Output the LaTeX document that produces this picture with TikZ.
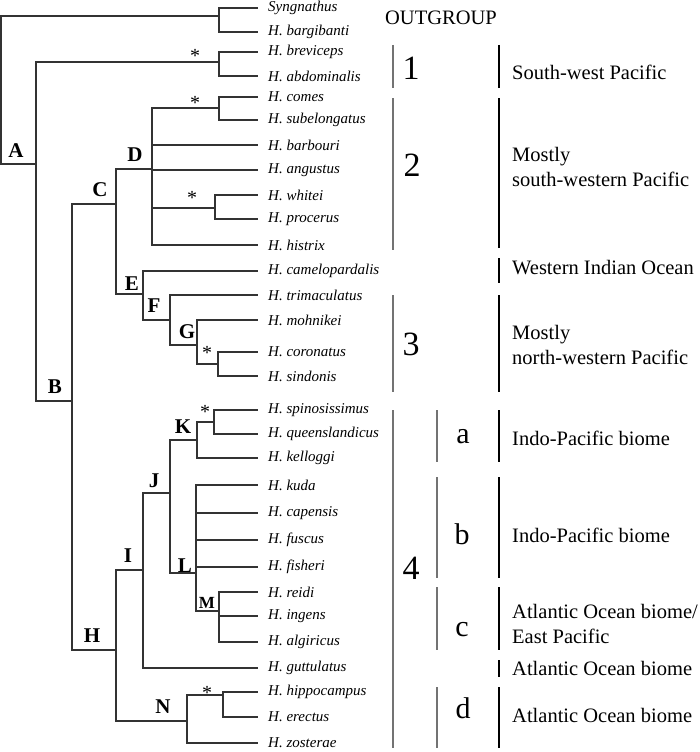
\documentclass[tikz,border=0pt]{standalone}
\usepackage{fontspec}
\setmainfont{Liberation Serif}
\begin{document}
\begin{tikzpicture}[x=1pt,y=-1pt,
  br/.style={draw=black!80, line width=1.1pt},
  sp/.style={anchor=west, inner xsep=10pt, inner ysep=1pt, font=\fontsize{15}{17}\selectfont\itshape},
  lbl/.style={font=\fontsize{21}{23}\selectfont\bfseries, inner sep=0pt},
  smlbl/.style={font=\fontsize{17}{19}\selectfont\bfseries, inner sep=0pt},
  star/.style={anchor=north, font=\fontsize{20}{22}\selectfont, inner sep=0pt},
  num/.style={font=\fontsize{34}{36}\selectfont, inner sep=0pt},
  let/.style={font=\fontsize{30}{32}\selectfont, inner sep=0pt},
  region/.style={anchor=west, align=left, font=\fontsize{20.5}{25}\selectfont, inner sep=0pt},
  gbar/.style={draw=black!55, line width=2pt},
  kbar/.style={draw=black, line width=2.5pt}]
\useasboundingbox (0,0) rectangle (700,752);

% leaves
\foreach \n/\y/\t in {
  syn/8/Syngnathus, barg/32/H. bargibanti, brev/52/H. breviceps, abdo/76/H. abdominalis,
  comes/97/H. comes, subel/120/H. subelongatus, barb/145/H. barbouri, angu/170/H. angustus,
  whit/195/H. whitei, proc/219/H. procerus, hist/245/H. histrix, came/271/H. camelopardalis,
  trim/295/H. trimaculatus, mohn/320/H. mohnikei, coro/352/H. coronatus, sind/376/H. sindonis,
  spin/410/H. spinosissimus, quee/434/H. queenslandicus, kell/458/H. kelloggi,
  kuda/485/H. kuda, cape/513/H. capensis, fusc/540/H. fuscus, fish/567/H. fisheri,
  reid/592/H. reidi, inge/616/H. ingens, algi/642/H. algiricus, gutt/668/H. guttulatus,
  hipp/692/H. hippocampus, erec/717/H. erectus, zost/743/H. zosterae}
  \node[sp] (\n) at (258,\y) {\t};

% internal nodes
\coordinate (root) at (1,90);
\coordinate (og) at (219,16);
\coordinate (nA) at (36,164);
\coordinate (brc) at (219,62);
\coordinate (nB) at (72,401);
\coordinate (nC) at (116,204);
\coordinate (nD) at (152,169);
\coordinate (coc) at (219,108);
\coordinate (whc) at (215,208);
\coordinate (nE) at (143,294);
\coordinate (nF) at (170,320);
\coordinate (nG) at (197,345);
\coordinate (crc) at (218,364);
\coordinate (nH) at (116,650);
\coordinate (nI) at (143,570);
\coordinate (nJ) at (170,493);
\coordinate (nK) at (197,440);
\coordinate (spc) at (214,422);
\coordinate (nL) at (196,573);
\coordinate (nM) at (219,611);
\coordinate (nN) at (187,721);
\coordinate (hpc) at (223,695);

% branches
\foreach \p/\c in {root/og, root/nA, og/syn.west, og/barg.west,
  nA/brc, nA/nB, brc/brev.west, brc/abdo.west,
  nB/nC, nB/nH, nC/nD, nC/nE,
  nD/coc, nD/barb.west, nD/angu.west, nD/whc, nD/hist.west,
  coc/comes.west, coc/subel.west, whc/whit.west, whc/proc.west,
  nE/came.west, nE/nF, nF/trim.west, nF/nG, nG/mohn.west, nG/crc,
  crc/coro.west, crc/sind.west,
  nH/nI, nH/nN, nI/nJ, nI/gutt.west, nJ/nK, nJ/nL,
  nK/spc, nK/kell.west, spc/spin.west, spc/quee.west,
  nL/kuda.west, nL/cape.west, nL/fusc.west, nL/fish.west, nL/nM,
  nM/reid.west, nM/inge.west, nM/algi.west,
  nN/hpc, nN/zost.west, hpc/hipp.west, hpc/erec.west}
  \draw[br] (\p) |- (\c);

% node labels
\node[lbl] (lA) at (16,151) {A};
\node[lbl] (lB) at (55,387) {B};
\node[lbl] (lC) at (100,190) {C};
\node[lbl] (lD) at (135,155) {D};
\node[lbl] (lE) at (132,284) {E};
\node[lbl] (lF) at (154,306) {F};
\node[lbl] (lG) at (187,332) {G};
\node[lbl] (lH) at (92,636) {H};
\node[lbl] (lI) at (128,556) {I};
\node[lbl] (lJ) at (154,481) {J};
\node[lbl] (lK) at (183,427) {K};
\node[lbl] (lL) at (185,566) {L};
\node[smlbl] (lM) at (207,603) {M};
\node[lbl] (lN) at (163,707) {N};

% support stars
\node[star] (s1) at (195,49) {*};
\node[star] (s2) at (195,96) {*};
\node[star] (s3) at (192,191) {*};
\node[star] (s4) at (207,346) {*};
\node[star] (s5) at (205,405) {*};
\node[star] (s6) at (207,686) {*};

% outgroup
\node[font=\fontsize{20.5}{22}\selectfont, inner sep=0pt] (out) at (441,18) {OUTGROUP};

% bars column 1
\draw[gbar] (393,45) -- (393,88);
\draw[gbar] (393,98) -- (393,250);
\draw[gbar] (393,295) -- (393,392);
\draw[gbar] (393,410) -- (393,748);
% bars column 2
\draw[gbar] (437,410) -- (437,462);
\draw[gbar] (437,477) -- (437,578);
\draw[gbar] (437,587) -- (437,650);
\draw[gbar] (437,687) -- (437,748);
% bars column 3
\draw[kbar] (499,45) -- (499,88);
\draw[kbar] (499,98) -- (499,248);
\draw[kbar] (499,258) -- (499,283);
\draw[kbar] (499,295) -- (499,392);
\draw[kbar] (499,410) -- (499,462);
\draw[kbar] (499,477) -- (499,578);
\draw[kbar] (499,587) -- (499,650);
\draw[kbar] (499,660) -- (499,677);
\draw[kbar] (499,687) -- (499,748);

% group numbers and letters
\node[num] (g1) at (411,68) {1};
\node[num] (g2) at (412,165) {2};
\node[num] (g3) at (411,344) {3};
\node[num] (g4) at (411,568) {4};
\node[let] (ga) at (463,437) {a};
\node[let] (gb) at (462,534) {b};
\node[let] (gc) at (462,630) {c};
\node[let] (gd) at (463,708) {d};

% regions
\node[region] (r1) at (512,72) {South-west Pacific};
\node[region] (r2) at (512,167) {Mostly\\south-western Pacific};
\node[region] (r3) at (512,268) {Western Indian Ocean};
\node[region] (r4) at (512,345) {Mostly\\north-western Pacific};
\node[region] (r5) at (512,438) {Indo-Pacific biome};
\node[region] (r6) at (512,535) {Indo-Pacific biome};
\node[region] (r7) at (512,624) {Atlantic Ocean biome/\\East Pacific};
\node[region] (r8) at (512,668) {Atlantic Ocean biome};
\node[region] (r9) at (512,715) {Atlantic Ocean biome};
\end{tikzpicture}
\end{document}
